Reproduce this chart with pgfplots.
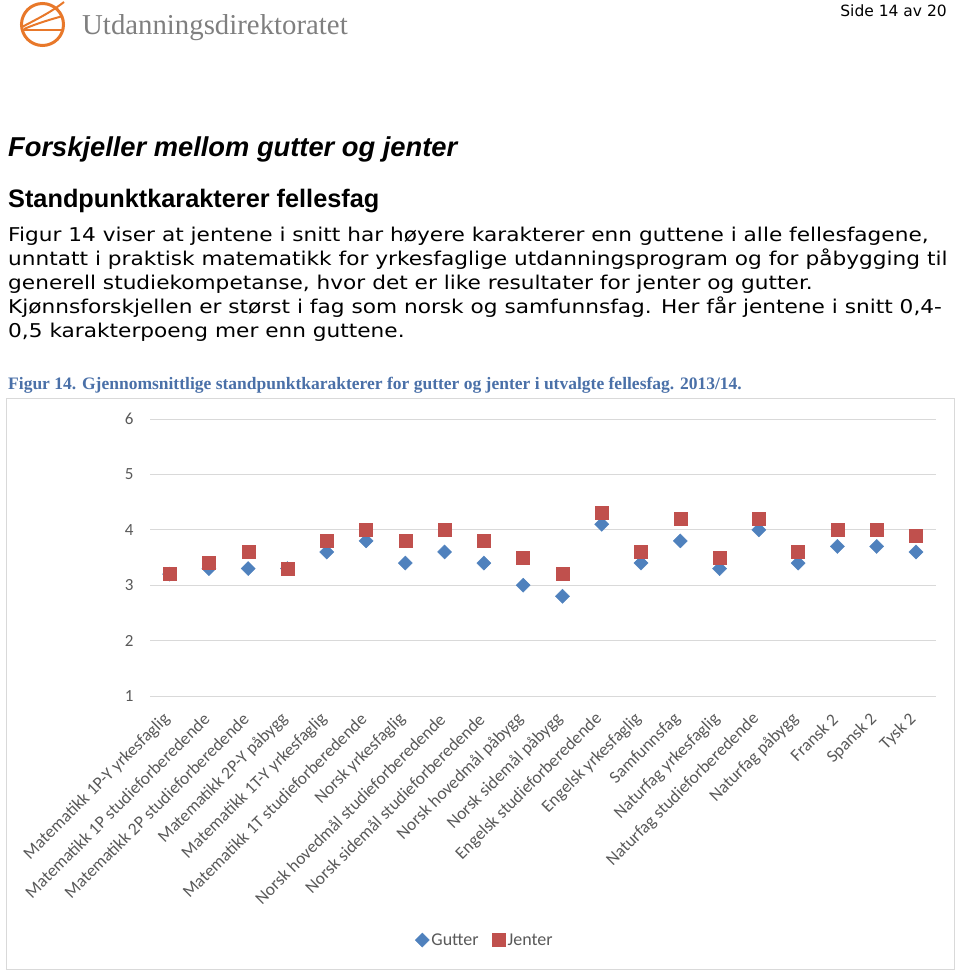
\documentclass[border=0pt]{standalone}
\usepackage{pgfplots}
\pgfplotsset{compat=1.18}
\usepackage{pgfplotstable}
\usepackage{fontspec}
\setmainfont{Liberation Sans}
\newfontfamily\verdana[FakeStretch=1.14]{DejaVu Sans}
\newfontfamily\sidefont{DejaVu Sans}
\newfontfamily\carlito{Carlito}
\newfontfamily\timesfont{Liberation Serif}

\definecolor{gutter}{HTML}{4F81BD}
\definecolor{jenter}{HTML}{C0504D}
\definecolor{gridgrey}{HTML}{D9D9D9}
\definecolor{labgrey}{HTML}{595959}
\definecolor{capblue}{HTML}{4A70A8}
\definecolor{logoorange}{HTML}{E8782A}
\definecolor{logogrey}{HTML}{7F7F7F}

% gjennomsnittlige standpunktkarakterer 2013/14
\pgfplotstableread{
idx gutter jenter
0  3.2 3.2
1  3.3 3.4
2  3.3 3.6
3  3.3 3.3
4  3.6 3.8
5  3.8 4.0
6  3.4 3.8
7  3.6 4.0
8  3.4 3.8
9  3.0 3.5
10 2.8 3.2
11 4.1 4.3
12 3.4 3.6
13 3.8 4.2
14 3.3 3.5
15 4.0 4.2
16 3.4 3.6
17 3.7 4.0
18 3.7 4.0
19 3.6 3.9
}\karakterer

\begin{document}
\begin{tikzpicture}[x=1pt,y=1pt]
\useasboundingbox (0,0) rectangle (960,-971);

% logo
\draw[logoorange, line width=3pt] (42.5,-24.5) circle (21);
\draw[logoorange, line width=2pt] (22,-30) -- (63,-30);
\draw[logoorange, line width=2pt] (22,-27) .. controls (35,-20) and (50,-13) .. (64,-2);
\draw[logoorange, line width=2pt] (24,-29) .. controls (38,-23) and (52,-19) .. (63,-16);
\node[anchor=base west, inner sep=0, text=logogrey, font=\timesfont\fontsize{28.8}{28.8}\selectfont] at (82,-35) {Utdanningsdirektoratet};

\node[anchor=base east, inner sep=0, font=\sidefont\fontsize{15.5}{15.5}\selectfont] at (947,-17) {Side 14 av 20};

\node[anchor=base west, inner sep=0, font=\bfseries\itshape\fontsize{27.3}{27.3}\selectfont] at (8,-156) {Forskjeller mellom gutter og jenter};
\node[anchor=base west, inner sep=0, font=\bfseries\fontsize{25.3}{25.3}\selectfont] at (8,-207) {Standpunktkarakterer fellesfag};

\begin{scope}[every node/.style={anchor=base west, inner sep=0, font=\verdana\fontsize{19}{19}\selectfont}]
\node at (8,-241) {Figur 14 viser at jentene i snitt har høyere karakterer enn guttene i alle fellesfagene,};
\node at (8,-265) {unntatt i praktisk matematikk for yrkesfaglige utdanningsprogram og for påbygging til};
\node at (8,-289) {generell studiekompetanse, hvor det er like resultater for jenter og gutter.};
\node at (8,-313) {Kjønnsforskjellen er størst i fag som norsk og samfunnsfag. Her får jentene i snitt 0,4-};
\node at (8,-337) {0,5 karakterpoeng mer enn guttene.};
\end{scope}

\node[anchor=base west, inner sep=0, text=capblue, font=\timesfont\bfseries\fontsize{17.5}{17.5}\selectfont] at (8,-389) {Figur 14. Gjennomsnittlige standpunktkarakterer for gutter og jenter i utvalgte fellesfag. 2013/14.};

% diagramramme
\draw[gridgrey, line width=1pt] (6,-398) rectangle (954,-969);

\begin{axis}[
	at={(150pt,-696pt)}, anchor=south west,
	width=785.6pt, height=277pt, scale only axis,
	xmin=-0.5, xmax=19.5, ymin=1, ymax=6,
	ytick={1,2,3,4,5,6},
	xtick={0,...,19},
	xticklabels={Matematikk 1P-Y yrkesfaglig, Matematikk 1P studieforberedende, Matematikk 2P studieforberedende, Matematikk 2P-Y påbygg, Matematikk 1T-Y yrkesfaglig, Matematikk 1T studieforberedende, Norsk yrkesfaglig, Norsk hovedmål studieforberedende, Norsk sidemål studieforberedende, Norsk hovedmål påbygg, Norsk sidemål påbygg, Engelsk studieforberedende, Engelsk yrkesfaglig, Samfunnsfag, Naturfag yrkesfaglig, Naturfag studieforberedende, Naturfag påbygg, Fransk 2, Spansk 2, Tysk 2},
	axis line style={draw=none},
	major tick length=0pt,
	ymajorgrids, grid style={gridgrey, line width=1pt},
	/pgf/number format/assume math mode=true,
	yticklabel style={font=\carlito\fontsize{17}{17}\selectfont, text=labgrey, xshift=-13pt},
	xticklabel style={font=\carlito\fontsize{17.5}{17.5}\selectfont, text=labgrey, yshift=-18pt, rotate=45, anchor=east},
	legend style={at={(0.4264,-0.881)}, anchor=center, draw=none, fill=none, legend columns=2,
		font=\carlito\fontsize{18}{18}\selectfont, text=labgrey,
		/tikz/every even column/.append style={column sep=12pt}},
	legend cell align=left,
]
\addplot[only marks, mark=square*, mark size=5pt, mark options={rotate=45, fill=gutter, draw=gutter}] table[x=idx, y=gutter] {\karakterer};
\addlegendentry{Gutter}
\addplot[only marks, mark=square*, mark size=6.5pt, mark options={fill=jenter, draw=jenter}] table[x=idx, y=jenter] {\karakterer};
\addlegendentry{Jenter}
\end{axis}
\end{tikzpicture}
\end{document}
